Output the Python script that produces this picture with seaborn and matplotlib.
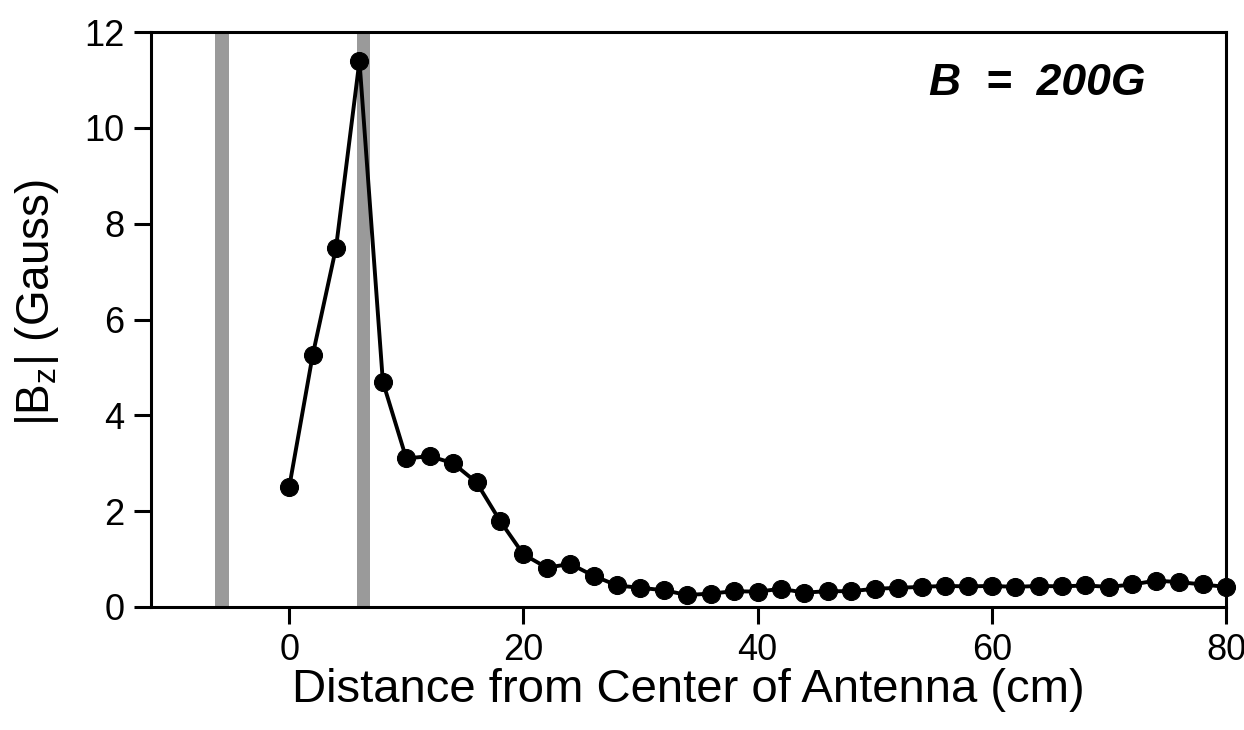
import matplotlib
matplotlib.use("Agg")
import matplotlib.pyplot as plt
import seaborn as sns
import pandas as pd

distance_cm = list(range(0, 82, 2))
bz_gauss = [2.5, 5.25, 7.5, 11.4, 4.7, 3.1, 3.15, 3.0, 2.6, 1.8,
            1.1, 0.82, 0.9, 0.65, 0.45, 0.4, 0.35, 0.25, 0.28, 0.33,
            0.32, 0.38, 0.3, 0.33, 0.33, 0.38, 0.4, 0.42, 0.44, 0.43,
            0.44, 0.42, 0.44, 0.43, 0.45, 0.42, 0.47, 0.55, 0.52, 0.47, 0.42]
antenna_bands = [(-6.3, -5.1), (5.8, 6.9)]
x_ticks = [0, 20, 40, 60, 80]
y_ticks = [0, 2, 4, 6, 8, 10, 12]

sns.set_theme(style="ticks")
plt.rcParams['font.family'] = ['Liberation Sans', 'DejaVu Sans']
plt.rcParams['mathtext.fontset'] = 'custom'
plt.rcParams['mathtext.rm'] = 'Liberation Sans'
plt.rcParams['mathtext.it'] = 'Liberation Sans:italic'
plt.rcParams['text.color'] = 'black'
plt.rcParams['axes.labelcolor'] = 'black'

df = pd.DataFrame({"x": distance_cm, "y": bz_gauss})

fig = plt.figure(figsize=(12.44, 7.30), dpi=100)
ax = fig.add_axes([0.1214, 0.1685, 0.8641, 0.7875])

for lo, hi in antenna_bands:
    ax.axvspan(lo, hi, color="#9a9a9a", lw=0, zorder=1)

sns.lineplot(data=df, x="x", y="y", ax=ax, color="black", linewidth=2.8,
             marker="o", markersize=13, markeredgecolor="black",
             markerfacecolor="black", zorder=3, clip_on=False)

ax.set_xlim(-11.8, 80)
ax.set_ylim(0, 12)
ax.set_xticks(x_ticks)
ax.set_yticks(y_ticks)
for s in ax.spines.values():
    s.set_linewidth(2.2)
    s.set_color("black")
ax.tick_params(axis="both", which="both", direction="out", length=12, width=2.2,
               labelsize=26, colors="black", pad=7)
ax.tick_params(top=False, right=False)

ax.set_xlabel("Distance from Center of Antenna (cm)", fontsize=34, labelpad=0)
ax.set_ylabel(r"|B$_\mathrm{z}$| (Gauss)", fontsize=33)
ax.yaxis.set_label_coords(-0.084, 0.53)

ax.text(0.925, 0.91, "B  =  200G", transform=ax.transAxes, ha="right", va="center",
        fontsize=32, fontweight="bold", fontstyle="italic")

fig.savefig("out.png", dpi=100)
